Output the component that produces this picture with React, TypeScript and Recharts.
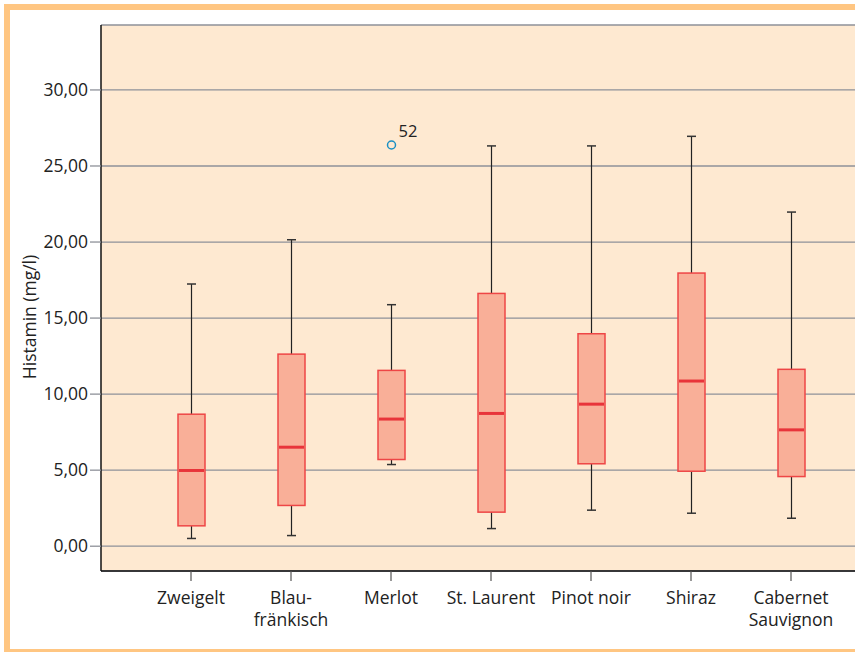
import React from 'react';
import { ComposedChart, Bar, XAxis, YAxis, CartesianGrid } from 'recharts';

const categories = ["Zweigelt", "Blau-\nfränkisch", "Merlot", "St. Laurent", "Pinot noir", "Shiraz", "Cabernet\nSauvignon"];
const whiskerMin = [0.51, 0.70, 5.37, 1.16, 2.37, 2.17, 1.84];
const q1 = [1.34, 2.68, 5.70, 2.24, 5.42, 4.93, 4.58];
const medians = [4.98, 6.51, 8.36, 8.73, 9.34, 10.86, 7.65];
const q3 = [8.68, 12.63, 11.56, 16.62, 13.97, 17.96, 11.63];
const whiskerMax = [17.24, 20.15, 15.88, 26.32, 26.32, 26.95, 21.97];
const outlierValues: (number | null)[] = [null, null, 26.38, null, null, null, null];
const outlierLabels = ["", "", "52", "", "", "", ""];
const yTicks = [0, 5, 10, 15, 20, 25, 30];

const data = categories.map((name, i) => ({
  name,
  min: whiskerMin[i],
  q1: q1[i],
  median: medians[i],
  q3: q3[i],
  max: whiskerMax[i],
  outlier: outlierValues[i],
  outlierLabel: outlierLabels[i],
}));

const FONT = '"Open Sans", "Noto Sans", sans-serif';

const BoxShape = (props: any) => {
  const { x, y, width, height, payload } = props;
  const { min, q1: lq, median, q3: uq, max, outlier, outlierLabel } = payload;
  const k = height / (max - min);
  const py = (v: number) => y + (max - v) * k;
  const cx = x + width / 2;
  const cap = 4.5;
  return (
    <g>
      <line x1={cx} x2={cx} y1={py(max)} y2={py(uq)} stroke="#222" strokeWidth={1.2} />
      <line x1={cx} x2={cx} y1={py(lq)} y2={py(min)} stroke="#222" strokeWidth={1.2} />
      <line x1={cx - cap} x2={cx + cap} y1={py(max)} y2={py(max)} stroke="#333" strokeWidth={1.5} />
      <line x1={cx - cap} x2={cx + cap} y1={py(min)} y2={py(min)} stroke="#333" strokeWidth={1.5} />
      <rect x={x} y={py(uq)} width={width} height={py(lq) - py(uq)} fill="#F9AF98" stroke="#EE4646" strokeWidth={1.5} />
      <line x1={x + 1} x2={x + width - 1} y1={py(median)} y2={py(median)} stroke="#E8343A" strokeWidth={3} />
      {outlier != null && (
        <g>
          <circle cx={cx} cy={py(outlier)} r={4} fill="none" stroke="#1A8FC4" strokeWidth={1.5} />
          <text x={cx + 7} y={py(outlier) - 8} fontSize={16.5} fill="#222" fontFamily={FONT}>{outlierLabel}</text>
        </g>
      )}
    </g>
  );
};

const XTick = (props: any) => {
  const { x, y, payload } = props;
  const lines = String(payload.value).split('\n');
  return (
    <text x={x} y={y} textAnchor="middle" fontSize={17.5} fill="#222" fontFamily={FONT}>
      {lines.map((l, i) => (
        <tspan key={i} x={x} dy={i === 0 ? 23 : 22}>{l}</tspan>
      ))}
    </text>
  );
};

const YLabel = (props: any) => {
  const { viewBox } = props;
  const cx = viewBox.x + 29;
  const cy = viewBox.y + viewBox.height / 2 + 19;
  return (
    <text x={cx} y={cy} textAnchor="middle" dominantBaseline="central" transform={`rotate(-90, ${cx}, ${cy})`} fontSize={17.5} fill="#222" fontFamily={FONT}>
      Histamin (mg/l)
    </text>
  );
};

export default function App() {
  return (
    <div style={{ position: 'absolute', left: 0, top: 0, width: 855, height: 652, background: '#fff', overflow: 'hidden' }}>
      <div style={{ position: 'absolute', left: 4, top: 4, width: 851, height: 639, borderTop: '6px solid #FFC682', borderLeft: '6px solid #FFC682', borderBottom: '3px solid #FFC682' }} />
      <div style={{ position: 'absolute', left: 0, top: 0 }}>
        <ComposedChart width={855} height={652} data={data} margin={{ top: 25, right: 0, bottom: 0, left: 0 }} barSize={27} style={{ fontFamily: FONT }}>
          <CartesianGrid horizontal vertical={false} fill="#FEE9D1" stroke="#8E9199" strokeWidth={1.3} />
          <XAxis
            dataKey="name"
            type="category"
            height={81}
            padding={{ left: 40, right: 14 }}
            axisLine={{ stroke: '#111', strokeWidth: 1.5 }}
            tickLine={{ stroke: '#555', strokeWidth: 1.2 }}
            tickSize={10}
            tickMargin={0}
            tick={<XTick />}
            interval={0}
          />
          <YAxis
            type="number"
            domain={[-1.63, 34.27]}
            ticks={yTicks}
            width={101}
            allowDataOverflow
            axisLine={{ stroke: '#111', strokeWidth: 1.5 }}
            tickLine={{ stroke: '#8E9199', strokeWidth: 1.3 }}
            tickSize={11}
            tickMargin={2}
            tick={{ fontSize: 17.5, fill: '#222', fontFamily: FONT }}
            tickFormatter={(v: number) => v.toFixed(2).replace('.', ',')}
            label={<YLabel />}
          />
          <Bar dataKey={(d: any) => [d.min, d.max]} shape={<BoxShape />} isAnimationActive={false} />
        </ComposedChart>
      </div>
    </div>
  );
}
